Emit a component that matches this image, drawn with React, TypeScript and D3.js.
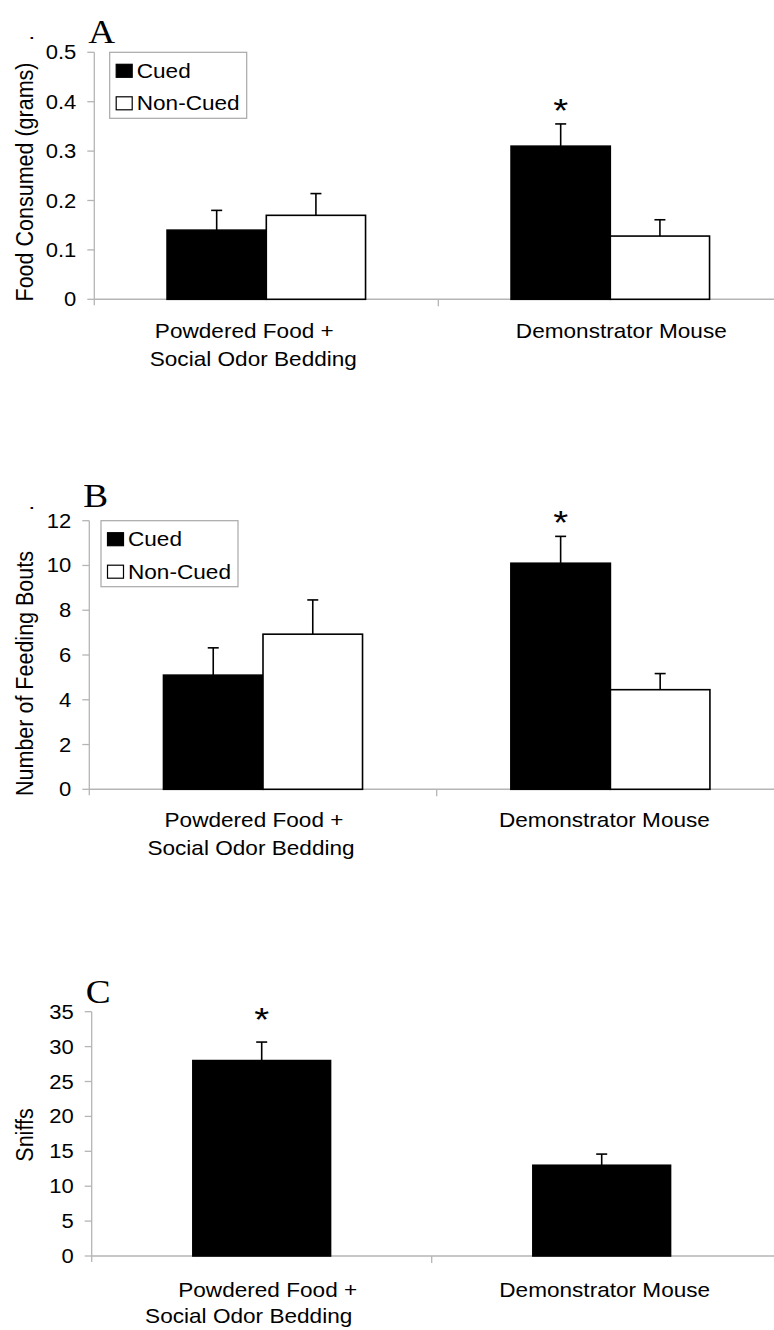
import * as d3 from "d3";
import { useEffect, useRef } from "react";

// categories / series
const categories = ["Powdered Food +|Social Odor Bedding", "Demonstrator Mouse"];
const seriesNames = ["Cued", "Non-Cued"];

// panel A: food consumed (grams)
const foodCued = [0.14, 0.31];
const foodCuedErr = [0.04, 0.045];
const foodNonCued = [0.17, 0.128];
const foodNonCuedErr = [0.044, 0.033];
const foodTicks = [0, 0.1, 0.2, 0.3, 0.4, 0.5];
const foodTickLabels = ["0", "0.1", "0.2", "0.3", "0.4", "0.5"];

// panel B: number of feeding bouts
const boutsCued = [5.1, 10.1];
const boutsCuedErr = [1.22, 1.2];
const boutsNonCued = [6.93, 4.45];
const boutsNonCuedErr = [1.53, 0.72];
const boutsTicks = [0, 2, 4, 6, 8, 10, 12];

// panel C: sniffs
const sniffs = [28, 13];
const sniffsErr = [2.65, 1.6];
const sniffsTicks = [0, 5, 10, 15, 20, 25, 30, 35];

const SX = 1.13; // the source figure is stretched horizontally
const FONT = "'Liberation Sans', Arial, sans-serif";

type Series = { values: number[]; err: number[]; fill: string };

const panels = [
  {
    letter: "A",
    title: "Food Consumed (grams)",
    x: [94.3, 782.3],
    y: [299.3, 52.3],
    domain: [0, 0.5],
    ticks: foodTicks,
    tickLabels: foodTickLabels,
    series: [
      { values: foodCued, err: foodCuedErr, fill: "#000" },
      { values: foodNonCued, err: foodNonCuedErr, fill: "#fff" },
    ] as Series[],
    groupFrac: 0.577,
    legendX: 15.4,
    catDx: [[-22, -13], [11]],
    catY: [38.5, 67],
    star: { cat: 1, s: 0, dy: 21 },
    letterY: 43.3,
    titleY: 182,
    dotY: 38,
  },
  {
    letter: "B",
    title: "Number of Feeding Bouts",
    x: [89.3, 784.1],
    y: [789.3, 520.7],
    domain: [0, 12],
    ticks: boutsTicks,
    tickLabels: boutsTicks.map(String),
    series: [
      { values: boutsCued, err: boutsCuedErr, fill: "#000" },
      { values: boutsNonCued, err: boutsNonCuedErr, fill: "#fff" },
    ] as Series[],
    groupFrac: 0.573,
    legendX: 11.7,
    catDx: [[-9, -12], [-6]],
    catY: [38, 66],
    star: { cat: 1, s: 0, dy: 21 },
    letterY: 506.7,
    titleY: 673.5,
    dotY: 508,
  },
  {
    letter: "C",
    title: "Sniffs",
    x: [91.7, 771.7],
    y: [1256, 1011.7],
    domain: [0, 35],
    ticks: sniffsTicks,
    tickLabels: sniffsTicks.map(String),
    series: [{ values: sniffs, err: sniffsErr, fill: "#000" }] as Series[],
    groupFrac: 0.405,
    legendX: null,
    catDx: [[6, -13], [3]],
    catY: [40.7, 67],
    star: { cat: 0, s: 0, dy: 30 },
    letterY: 1002.7,
    titleY: 1135,
    dotY: null,
  },
];

function stext(
  g: any,
  x: number,
  y: number,
  txt: string,
  size: number,
  anchor = "start",
  family = FONT
) {
  return g
    .append("text")
    .attr("transform", `translate(${x},${y}) scale(${SX},1)`)
    .attr("text-anchor", anchor)
    .attr("font-family", family)
    .attr("font-size", size)
    .attr("fill", "#000")
    .text(txt);
}

const App = () => {
  const svgRef = useRef<SVGSVGElement>(null);

  useEffect(() => {
    const svg = d3.select(svgRef.current);
    svg.selectAll("*").remove();

    panels.forEach((p) => {
      const g = svg.append("g");
      const x = d3.scaleBand().domain(categories).range(p.x as [number, number]);
      const y = d3.scaleLinear().domain(p.domain).range(p.y);
      const groupW = x.bandwidth() * p.groupFrac;
      const xs = d3
        .scaleBand()
        .domain(p.series.map((_, i) => seriesNames[i]))
        .range([0, groupW]);
      const axisColor = "#b5b5b5";

      // y axis
      g.append("line")
        .attr("x1", p.x[0]).attr("x2", p.x[0])
        .attr("y1", p.y[1]).attr("y2", p.y[0] + 6)
        .attr("stroke", axisColor).attr("stroke-width", 1.3);
      p.ticks.forEach((t, i) => {
        g.append("line")
          .attr("x1", p.x[0] - 7).attr("x2", p.x[0])
          .attr("y1", y(t)).attr("y2", y(t))
          .attr("stroke", axisColor).attr("stroke-width", 1.3);
        stext(g, p.x[0] - 18, y(t) + 7, p.tickLabels[i], 19.5, "end");
      });

      // x axis
      g.append("line")
        .attr("x1", p.x[0]).attr("x2", 774)
        .attr("y1", p.y[0]).attr("y2", p.y[0])
        .attr("stroke", axisColor).attr("stroke-width", 1.6);
      categories.slice(1).forEach((c) => {
        const tx = x(c)!;
        g.append("line")
          .attr("x1", tx).attr("x2", tx)
          .attr("y1", p.y[0]).attr("y2", p.y[0] + 7)
          .attr("stroke", axisColor).attr("stroke-width", 1.3);
      });

      // bars + error bars
      p.series.forEach((s, si) => {
        categories.forEach((c, ci) => {
          const bx = x(c)! + (x.bandwidth() - groupW) / 2 + xs(seriesNames[si])!;
          const bw = xs.bandwidth();
          const top = y(s.values[ci]);
          const etop = y(s.values[ci] + s.err[ci]);
          const cx = bx + bw / 2;
          g.append("line")
            .attr("x1", cx).attr("x2", cx)
            .attr("y1", top).attr("y2", etop)
            .attr("stroke", "#000").attr("stroke-width", 1.6);
          g.append("line")
            .attr("x1", cx - 5.5).attr("x2", cx + 5.5)
            .attr("y1", etop).attr("y2", etop)
            .attr("stroke", "#000").attr("stroke-width", 1.6);
          g.append("rect")
            .attr("x", bx).attr("y", top)
            .attr("width", bw).attr("height", p.y[0] - top)
            .attr("fill", s.fill)
            .attr("stroke", "#000").attr("stroke-width", 1.6);
          if (p.star.cat === ci && p.star.s === si) {
            stext(g, cx, etop - p.star.dy + 19, "*", 34, "middle");
          }
        });
      });

      // category labels
      categories.forEach((c, ci) => {
        const cx = x(c)! + x.bandwidth() / 2;
        c.split("|").forEach((line, li) => {
          stext(g, cx + p.catDx[ci][li], p.y[0] + p.catY[li], line, 20, "middle");
        });
      });

      // y title
      g.append("text")
        .attr("transform", `translate(33,${p.titleY}) rotate(-90) scale(1,${SX})`)
        .attr("text-anchor", "middle")
        .attr("font-family", FONT)
        .attr("font-size", 21.5)
        .text(p.title);
      if (p.dotY !== null) {
        g.append("text")
          .attr("transform", `translate(33,${p.dotY}) rotate(-90)`)
          .attr("text-anchor", "middle")
          .attr("font-family", FONT)
          .attr("font-size", 21.5)
          .text(".");
      }

      // panel letter
      stext(g, p.x[0] - 6, p.letterY, p.letter, 33, "start", "'Liberation Serif', 'Times New Roman', serif");

      // legend
      if (p.legendX !== null) {
        const lx = p.x[0] + p.legendX;
        const ly = p.y[1];
        g.append("rect")
          .attr("x", lx).attr("y", ly)
          .attr("width", 137).attr("height", 66)
          .attr("fill", "#fff").attr("stroke", "#a8a8a8").attr("stroke-width", 1.2);
        seriesNames.forEach((n, i) => {
          g.append("rect")
            .attr("x", lx + 6.5).attr("y", ly + 12 + i * 32.5)
            .attr("width", 16).attr("height", 13)
            .attr("fill", p.series[i].fill)
            .attr("stroke", "#000").attr("stroke-width", 1.2);
          stext(g, lx + 27, ly + 25.3 + i * 32.5, n, 20);
        });
      }
    });
  }, []);

  return (
    <svg
      ref={svgRef}
      width={774}
      height={1330}
      style={{ position: "absolute", left: 0, top: 0, background: "#fff" }}
    />
  );
};

export default App;
